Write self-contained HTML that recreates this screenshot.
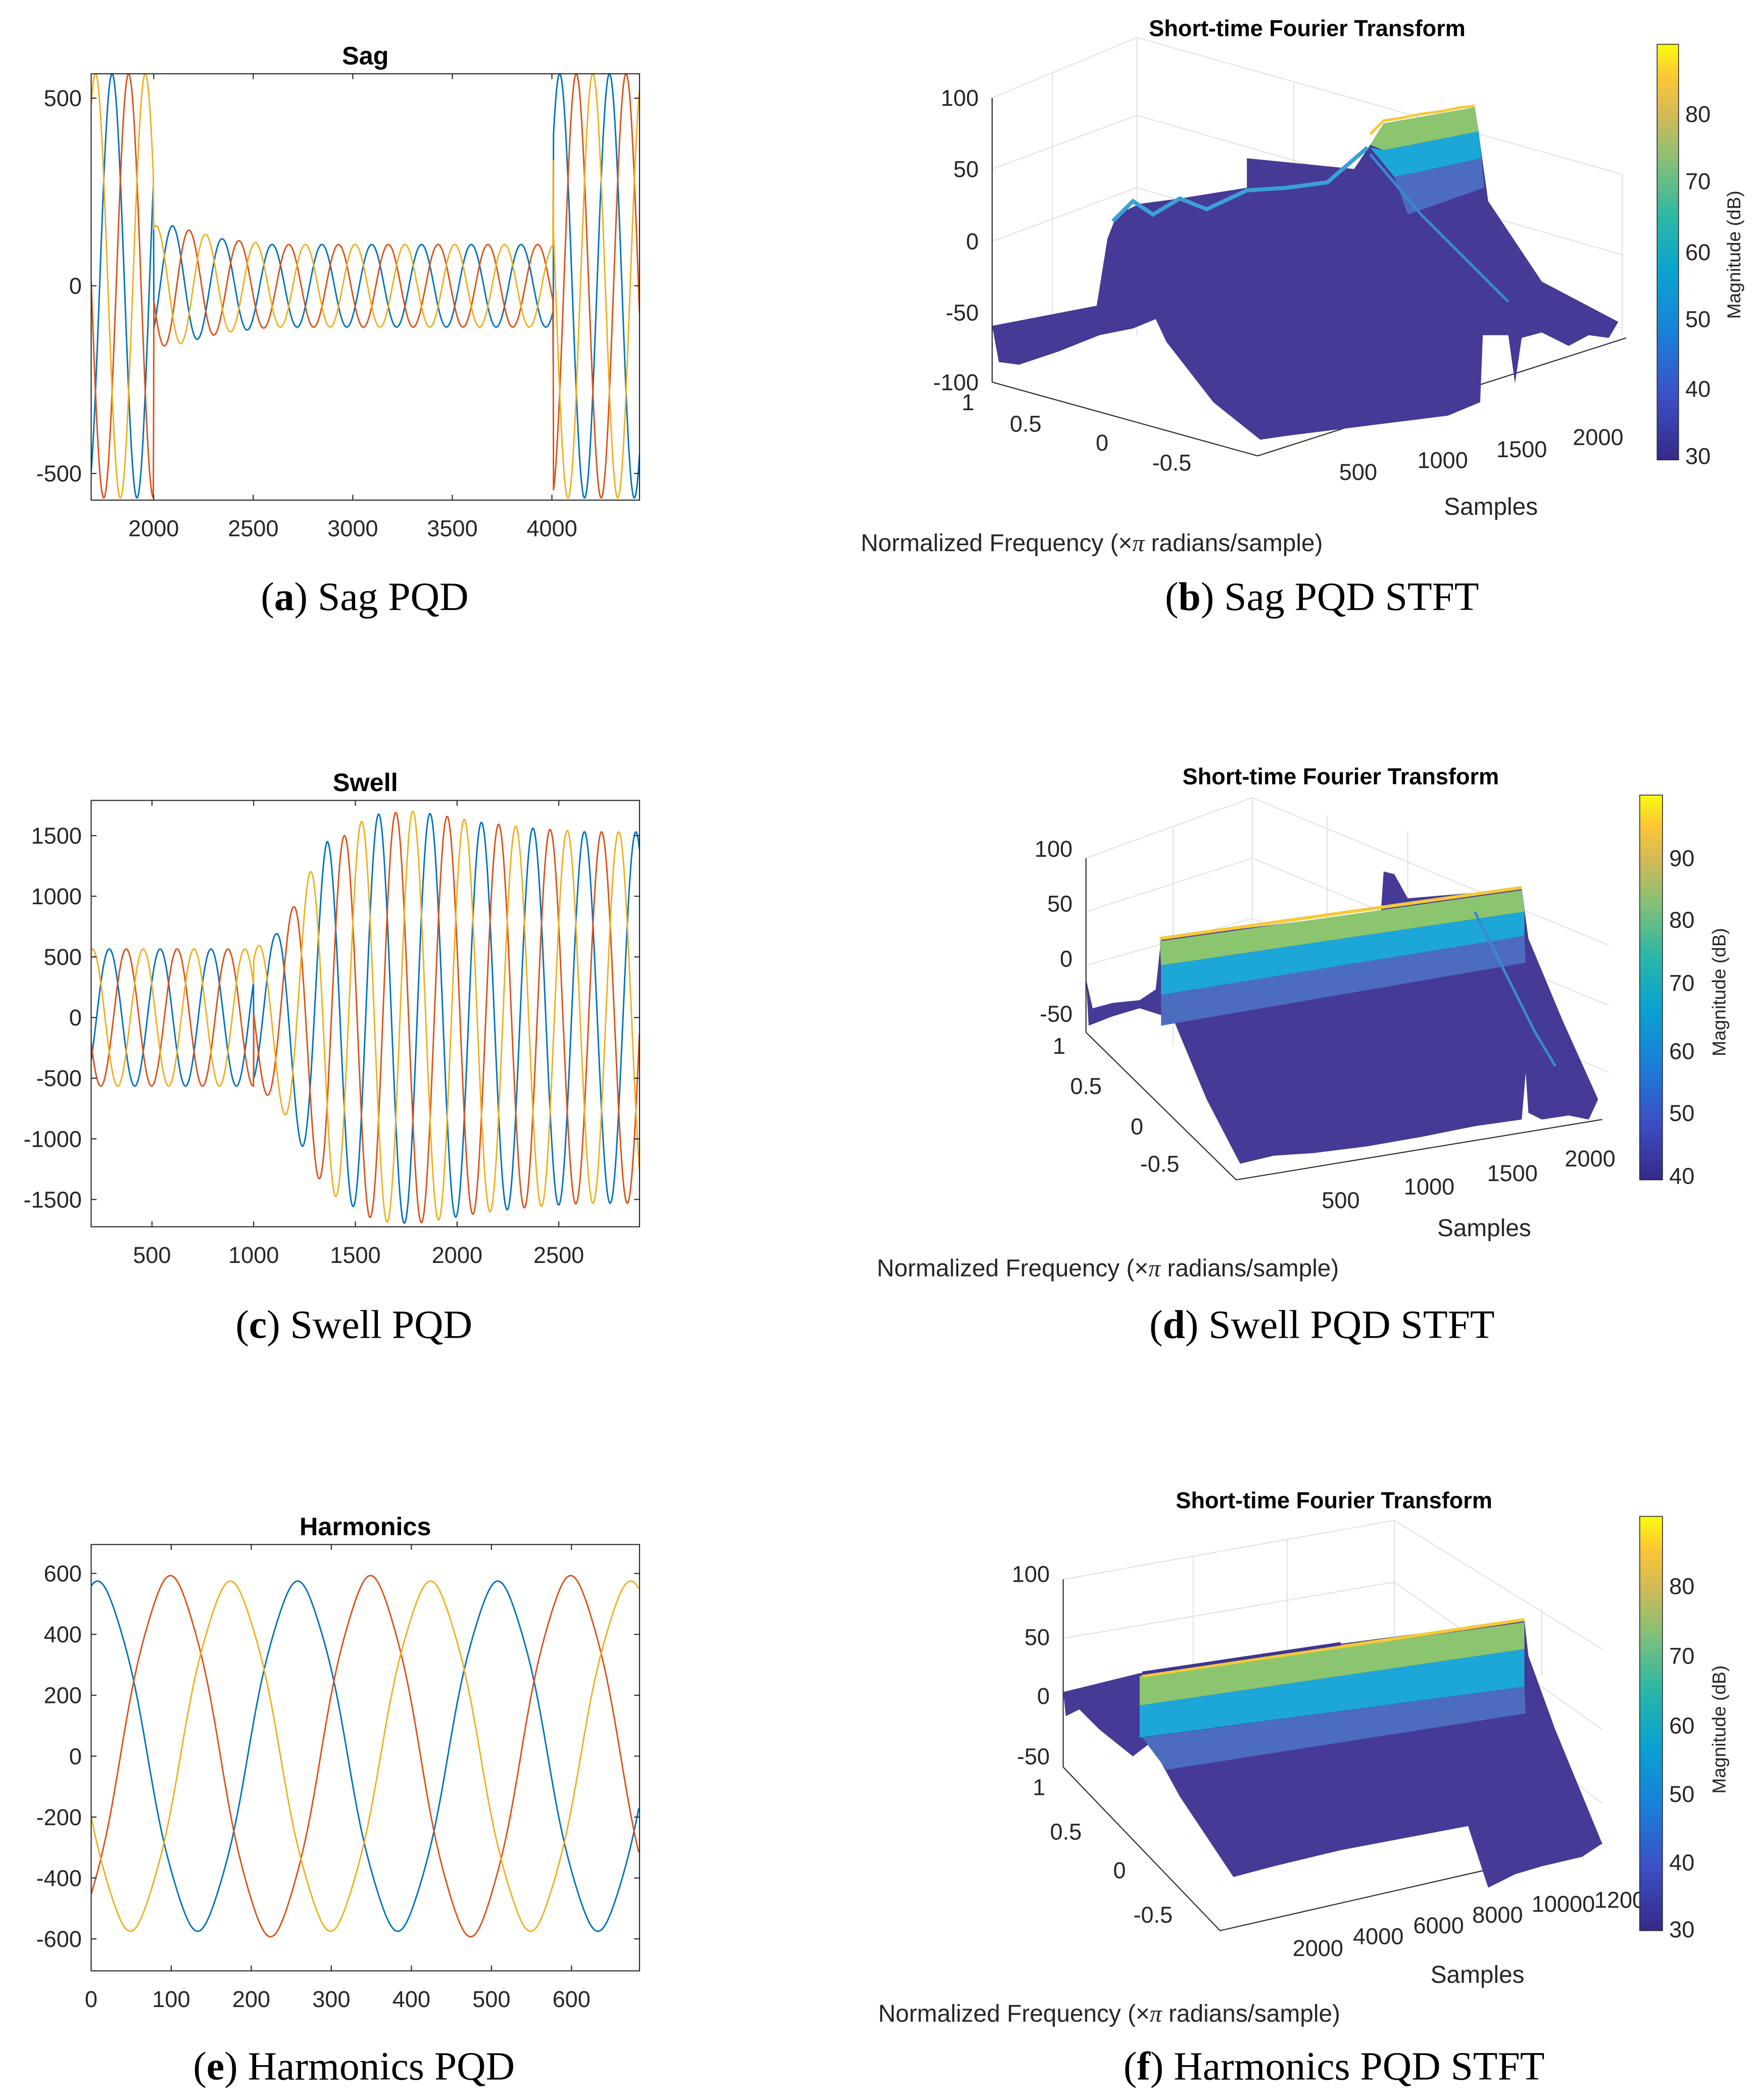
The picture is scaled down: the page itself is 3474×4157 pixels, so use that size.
<!DOCTYPE html>
<html><head><meta charset="utf-8"><style>
html,body{margin:0;padding:0;background:#fff}
svg{display:block}
text{font-family:"Liberation Sans",sans-serif}
.cap{font-family:"Liberation Serif",serif;font-size:30px}
.tk{font-size:17px;fill:#262626}
</style></head><body>
<svg id="fig" width="3474" height="4157" viewBox="0 0 1309 1566.3" xmlns="http://www.w3.org/2000/svg">
<defs>
<linearGradient id="parula" x1="0" y1="1" x2="0" y2="0">
<stop offset="0" stop-color="#352a87"/><stop offset="0.15" stop-color="#3c4fc4"/><stop offset="0.3" stop-color="#1a7fd8"/><stop offset="0.45" stop-color="#0aa3d0"/><stop offset="0.58" stop-color="#2ab7a6"/><stop offset="0.72" stop-color="#86c077"/><stop offset="0.83" stop-color="#d3ba55"/><stop offset="0.92" stop-color="#fcc636"/><stop offset="1" stop-color="#f9fb0e"/>
</linearGradient>
</defs>

<text class="cap" x="272" y="455" text-anchor="middle">(<tspan font-weight="bold">a</tspan>) Sag PQD</text>
<text class="cap" x="986" y="455" text-anchor="middle">(<tspan font-weight="bold">b</tspan>) Sag PQD STFT</text>
<text class="cap" x="264" y="998" text-anchor="middle">(<tspan font-weight="bold">c</tspan>) Swell PQD</text>
<text class="cap" x="986" y="998" text-anchor="middle">(<tspan font-weight="bold">d</tspan>) Swell PQD STFT</text>
<text class="cap" x="264" y="1551" text-anchor="middle">(<tspan font-weight="bold">e</tspan>) Harmonics PQD</text>
<text class="cap" x="995" y="1551" text-anchor="middle">(<tspan font-weight="bold">f</tspan>) Harmonics PQD STFT</text>

<g>
<text x="975" y="27" text-anchor="middle" font-weight="bold" font-size="17">Short-time Fourier Transform</text>
<g stroke="#e2e2e2" stroke-width="0.8" fill="none">
<polyline points="740,73 848,28 1210,130"/><polyline points="740,126 848,86 1210,190"/><polyline points="740,180 848,140 1210,245"/>
<line x1="848" y1="28" x2="848" y2="250"/><line x1="785" y1="55" x2="785" y2="265"/><line x1="1210" y1="130" x2="1210" y2="252"/>
<line x1="965" y1="62" x2="965" y2="275"/><line x1="1085" y1="96" x2="1085" y2="232"/>
</g>
<g stroke="#262626" stroke-width="0.8" fill="none"><line x1="740" y1="73" x2="740" y2="285"/><polyline points="740,285 938,340 1213,252"/></g>
<path fill="#453a95" d="M740,243 L818,228 L826,178 L833,160 L850,152 L880,148 L930,140 L930,118 L1010,126 L1022,108 L1032,92 L1100,80 L1103,100 L1110,150 L1150,210 L1207,240 L1200,252 L1185,250 L1170,258 L1150,248 L1135,252 L1130,286 L1125,250 L1106,250 L1104,300 L1080,310 L1040,315 L1000,320 L960,325 L940,328 L905,300 L870,255 L862,238 L845,245 L820,250 L790,262 L760,272 L745,270 Z"/>
<polygon fill="#8cc56f" points="1022,108 1032,92 1100,80 1103,98 1032,112"/>
<polyline fill="none" stroke="#f4c93a" stroke-width="2" points="1022,100 1032,90 1045,88 1060,85 1075,83 1090,80 1100,79"/>
<polygon fill="#1da6d8" points="1022,110 1032,112 1103,98 1105,118 1040,132"/>
<polygon fill="#4c6cc0" points="1040,132 1105,118 1107,140 1050,160"/>
<polyline fill="none" stroke="#3aa0d8" stroke-width="3" points="830,165 845,150 860,160 880,148 900,156 930,142 960,140 990,136 1020,110"/>
<polyline fill="none" stroke="#3b88cf" stroke-width="2" points="1022,115 1060,160 1100,200 1125,225"/>
<g class="tk" text-anchor="end"><text x="730" y="79">100</text><text x="730" y="132">50</text><text x="730" y="186">0</text><text x="730" y="239">-50</text><text x="730" y="291">-100</text></g>
<g class="tk" text-anchor="middle"><text x="722" y="306">1</text><text x="765" y="322">0.5</text><text x="822" y="336">0</text><text x="874" y="351">-0.5</text>
<text x="1013" y="358">500</text><text x="1076" y="349">1000</text><text x="1135" y="341">1500</text><text x="1192" y="332">2000</text></g>
<text x="1112" y="384" font-size="18" text-anchor="middle" fill="#262626">Samples</text>
<text x="642" y="411" font-size="18" fill="#262626">Normalized Frequency (×<tspan font-family="Liberation Serif" font-style="italic">π</tspan> radians/sample)</text>
<rect x="1236" y="33" width="16" height="310" fill="url(#parula)" stroke="#262626" stroke-width="0.6"/>
<g class="tk"><text x="1257" y="91">80</text><text x="1257" y="141">70</text><text x="1257" y="194">60</text><text x="1257" y="244">50</text><text x="1257" y="296">40</text><text x="1257" y="346">30</text></g>
<text transform="translate(1298,190) rotate(-90)" text-anchor="middle" font-size="14" fill="#262626">Magnitude (dB)</text>
</g>

<g>
<text x="1000" y="585" text-anchor="middle" font-weight="bold" font-size="17">Short-time Fourier Transform</text>
<g stroke="#e2e2e2" stroke-width="0.8" fill="none">
<polyline points="810,640 934,595 1200,705"/><polyline points="810,680 934,640 1200,750"/><polyline points="810,720 934,685 1200,800"/>
<line x1="934" y1="595" x2="934" y2="770"/><line x1="875" y1="618" x2="875" y2="780"/><line x1="990" y1="608" x2="990" y2="770"/><line x1="1050" y1="620" x2="1050" y2="700"/>
</g>
<g stroke="#262626" stroke-width="0.8" fill="none"><line x1="810" y1="640" x2="810" y2="770"/><polyline points="810,770 922,880 1195,835"/></g>
<path fill="#453a95" d="M810,730 L815,752 L830,748 L850,746 L862,738 L866,700 L1030,680 L1032,650 L1040,652 L1050,670 L1135,663 L1140,700 L1165,760 L1192,820 L1185,835 L1170,832 L1150,835 L1140,830 L1138,800 L1135,835 L1100,840 L1060,848 L1020,855 L980,860 L950,862 L925,868 L900,820 L875,760 L850,752 L830,758 L812,765 Z"/>
<polygon fill="#8cc56f" points="865,702 1135,664 1137,680 866,720"/>
<polyline fill="none" stroke="#f4c93a" stroke-width="2.5" points="865,700 1135,662"/>
<polygon fill="#1da6d8" points="866,720 1137,680 1137,698 866,742"/>
<polygon fill="#4c6cc0" points="866,742 1137,698 1138,718 866,765"/>
<polyline fill="none" stroke="#3b88cf" stroke-width="2" points="1100,680 1120,720 1145,770 1160,795"/>
<g class="tk" text-anchor="end"><text x="800" y="639">100</text><text x="800" y="680">50</text><text x="800" y="721">0</text><text x="800" y="762">-50</text></g>
<g class="tk" text-anchor="middle"><text x="790" y="786">1</text><text x="810" y="816">0.5</text><text x="848" y="846">0</text><text x="865" y="874">-0.5</text>
<text x="1000" y="901">500</text><text x="1066" y="891">1000</text><text x="1128" y="881">1500</text><text x="1186" y="870">2000</text></g>
<text x="1107" y="922" font-size="18" text-anchor="middle" fill="#262626">Samples</text>
<text x="654" y="952" font-size="18" fill="#262626">Normalized Frequency (×<tspan font-family="Liberation Serif" font-style="italic">π</tspan> radians/sample)</text>
<rect x="1223" y="593" width="17" height="287" fill="url(#parula)" stroke="#262626" stroke-width="0.6"/>
<g class="tk"><text x="1245" y="646">90</text><text x="1245" y="692">80</text><text x="1245" y="739">70</text><text x="1245" y="790">60</text><text x="1245" y="836">50</text><text x="1245" y="883">40</text></g>
<text transform="translate(1287,740) rotate(-90)" text-anchor="middle" font-size="14" fill="#262626">Magnitude (dB)</text>
</g>

<g>
<text x="995" y="1125" text-anchor="middle" font-weight="bold" font-size="17">Short-time Fourier Transform</text>
<g stroke="#e2e2e2" stroke-width="0.8" fill="none">
<polyline points="793,1178 1040,1134 1195,1230"/><polyline points="793,1222 1040,1180 1195,1290"/><polyline points="793,1265 1040,1225 1195,1345"/>
<line x1="1040" y1="1134" x2="1040" y2="1230"/><line x1="890" y1="1160" x2="890" y2="1300"/><line x1="960" y1="1148" x2="960" y2="1240"/><line x1="1150" y1="1200" x2="1150" y2="1250"/>
</g>
<g stroke="#262626" stroke-width="0.8" fill="none"><line x1="793" y1="1178" x2="793" y2="1318"/><polyline points="793,1318 910,1440 1195,1375"/></g>
<path fill="#453a95" d="M793,1262 L850,1248 L1000,1226 L1137,1208 L1140,1235 L1160,1290 L1195,1375 L1180,1385 L1150,1392 L1130,1398 L1110,1408 L1095,1362 L1000,1380 L950,1392 L920,1400 L880,1340 L858,1300 L845,1310 L820,1290 L805,1275 L795,1280 Z"/>
<polygon fill="#8cc56f" points="850,1250 1137,1210 1137,1230 850,1272"/>
<polyline fill="none" stroke="#f4c93a" stroke-width="2.5" points="852,1250 1137,1208"/>
<polyline fill="none" stroke="#3d3590" stroke-width="2.5" points="852,1248 1000,1226"/>
<polygon fill="#1da6d8" points="850,1272 1137,1230 1137,1258 850,1296"/>
<polygon fill="#4c6cc0" points="852,1296 1137,1258 1138,1278 870,1320"/>
<g class="tk" text-anchor="end"><text x="783" y="1180">100</text><text x="783" y="1227">50</text><text x="783" y="1271">0</text><text x="783" y="1316">-50</text></g>
<g class="tk" text-anchor="middle"><text x="775" y="1339">1</text><text x="795" y="1372">0.5</text><text x="835" y="1401">0</text><text x="860" y="1434">-0.5</text>
<text x="983" y="1459">2000</text><text x="1028" y="1450">4000</text><text x="1073" y="1442">6000</text><text x="1117" y="1434">8000</text><text x="1166" y="1426">10000</text><text x="1208" y="1423">1200</text></g>
<text x="1102" y="1479" font-size="18" text-anchor="middle" fill="#262626">Samples</text>
<text x="655" y="1508" font-size="18" fill="#262626">Normalized Frequency (×<tspan font-family="Liberation Serif" font-style="italic">π</tspan> radians/sample)</text>
<rect x="1223" y="1131" width="17" height="309" fill="url(#parula)" stroke="#262626" stroke-width="0.6"/>
<g class="tk"><text x="1245" y="1189">80</text><text x="1245" y="1241">70</text><text x="1245" y="1293">60</text><text x="1245" y="1344">50</text><text x="1245" y="1395">40</text><text x="1245" y="1445">30</text></g>
<text transform="translate(1287,1290) rotate(-90)" text-anchor="middle" font-size="14" fill="#262626">Magnitude (dB)</text>
</g>

<g id="waves"></g>
</svg>
<script>
// Sag: amplitude envelope (time, amplitude) and phase segments (blue peak time)
const sagEnvT = [1686, 1999, 2000, 2093, 2346, 2595, 4006, 4007, 4440];
const sagEnvA = [565, 565, 160, 160, 125, 110, 110, 565, 565];
const sagSegStart = [0, 2000, 4007];
const sagSegPeak = [41, 2095, 4289];
const sagYTicks = [-500, 0, 500];
const sagXTicks = [2000, 2500, 3000, 3500, 4000];
// Swell
const swellEnvT = [0, 1000, 1110, 1197, 1272, 1361, 1448, 1534, 1620, 1787, 1877, 2126, 2379, 2628, 2900];
const swellEnvA = [565, 565, 688, 919, 1182, 1450, 1501, 1621, 1681, 1700, 1679, 1607, 1559, 1531, 1530];
const swellSegStart = [0, 1000];
const swellSegPeak = [40, 1361];
const swellSegPeriod = [250, 253];
const swellYTicks = [-1500, -1000, -500, 0, 500, 1000, 1500];
const swellXTicks = [500, 1000, 1500, 2000, 2500];
// Harmonics
const harmPeaks = [8, 99, 174];
const harmAmps = [565, 583, 565];
const harmFifth = [10];
const harmYTicks = [-600, -400, -200, 0, 200, 400, 600];
const harmXTicks = [0, 100, 200, 300, 400, 500, 600];
const period = [250];
const phaseColors = ['#0072BD', '#D95319', '#EDB120'];

const NS = 'http://www.w3.org/2000/svg';
const root = document.getElementById('waves');
function mk(tag, attrs, parent) {
  const e = document.createElementNS(NS, tag);
  for (const k in attrs) e.setAttribute(k, attrs[k]);
  parent.appendChild(e); return e;
}
function interp(T, A, t) {
  if (t <= T[0]) return A[0];
  for (let i = 1; i < T.length; i++) if (t <= T[i]) return A[i - 1] + (A[i] - A[i - 1]) * (t - T[i - 1]) / (T[i] - T[i - 1]);
  return A[A.length - 1];
}
function seg(starts, t) { let k = 0; for (let i = 0; i < starts.length; i++) if (t >= starts[i]) k = i; return k; }
function panel(name, title, box, xd, yd, xt, yt, fn) {
  const g = mk('g', {}, root);
  
  
  const sx = v => box.x0 + (v - xd[0]) / (xd[1] - xd[0]) * (box.x1 - box.x0);
  const sy = v => box.y1 - (v - yd[0]) / (yd[1] - yd[0]) * (box.y1 - box.y0);
  const clip = 'clip-' + name;
  const cp = mk('clipPath', { id: clip }, g);
  mk('rect', { x: box.x0, y: box.y0, width: box.x1 - box.x0, height: box.y1 - box.y0 }, cp);
  const lines = mk('g', { 'clip-path': 'url(#' + clip + ')' }, g);
  for (let p = 0; p < 3; p++) {
    let d = '';
    for (let t = xd[0]; t <= xd[1]; t += 1.5) {
      d += (d ? 'L' : 'M') + sx(t).toFixed(2) + ',' + sy(fn(t, p)).toFixed(2);
    }
    const path = mk('path', { d: d, fill: 'none', stroke: phaseColors[p], 'stroke-width': 1.1 }, lines);
    
    
  }
  mk('rect', { x: box.x0, y: box.y0, width: box.x1 - box.x0, height: box.y1 - box.y0, fill: 'none', stroke: '#262626', 'stroke-width': 0.8 }, g);
  yt.forEach(v => {
    const y = sy(v);
    mk('line', { x1: box.x0, y1: y, x2: box.x0 + 4, y2: y, stroke: '#262626', 'stroke-width': 0.8 }, g);
    mk('line', { x1: box.x1, y1: y, x2: box.x1 - 4, y2: y, stroke: '#262626', 'stroke-width': 0.8 }, g);
    const t = mk('text', { x: box.x0 - 7, y: y + 6, 'text-anchor': 'end', class: 'tk' }, g);
    t.textContent = v;
    
    
  });
  xt.forEach(v => {
    const x = sx(v);
    mk('line', { x1: x, y1: box.y1, x2: x, y2: box.y1 - 4, stroke: '#262626', 'stroke-width': 0.8 }, g);
    mk('line', { x1: x, y1: box.y0, x2: x, y2: box.y0 + 4, stroke: '#262626', 'stroke-width': 0.8 }, g);
    const t = mk('text', { x: x, y: box.y1 + 27, 'text-anchor': 'middle', class: 'tk' }, g);
    t.textContent = v;
    
    
  });
  const tt = mk('text', { x: (box.x0 + box.x1) / 2, y: box.y0 - 7, 'text-anchor': 'middle', 'font-weight': 'bold', 'font-size': 19 }, g);
  tt.textContent = title;
  
  
}
const W = 2 * Math.PI;
panel('sag-plot', 'Sag', { x0: 68, x1: 477, y0: 55, y1: 373 }, [1686, 4440], [-571, 565], sagXTicks, sagYTicks,
  (t, p) => {
    const k = seg(sagSegStart, t);
    const P = period[0];
    return interp(sagEnvT, sagEnvA, t) * Math.cos(W * (t - sagSegPeak[k] - p * P / 3) / P);
  });
panel('swell-plot', 'Swell', { x0: 68, x1: 477, y0: 597, y1: 915 }, [201, 2897], [-1725, 1790], swellXTicks, swellYTicks,
  (t, p) => {
    const k = seg(swellSegStart, t);
    const P = swellSegPeriod[k];
    return interp(swellEnvT, swellEnvA, t) * Math.cos(W * (t - swellSegPeak[k] - p * P / 3) / P);
  });
panel('harmonics-plot', 'Harmonics', { x0: 68, x1: 477, y0: 1152, y1: 1470 }, [0, 685], [-705, 695], harmXTicks, harmYTicks,
  (t, p) => {
    const th = W * (t - harmPeaks[p]) / period[0];
    return harmAmps[p] * Math.cos(th) + harmFifth[0] * Math.cos(5 * th);
  });
</script>
</body></html>
